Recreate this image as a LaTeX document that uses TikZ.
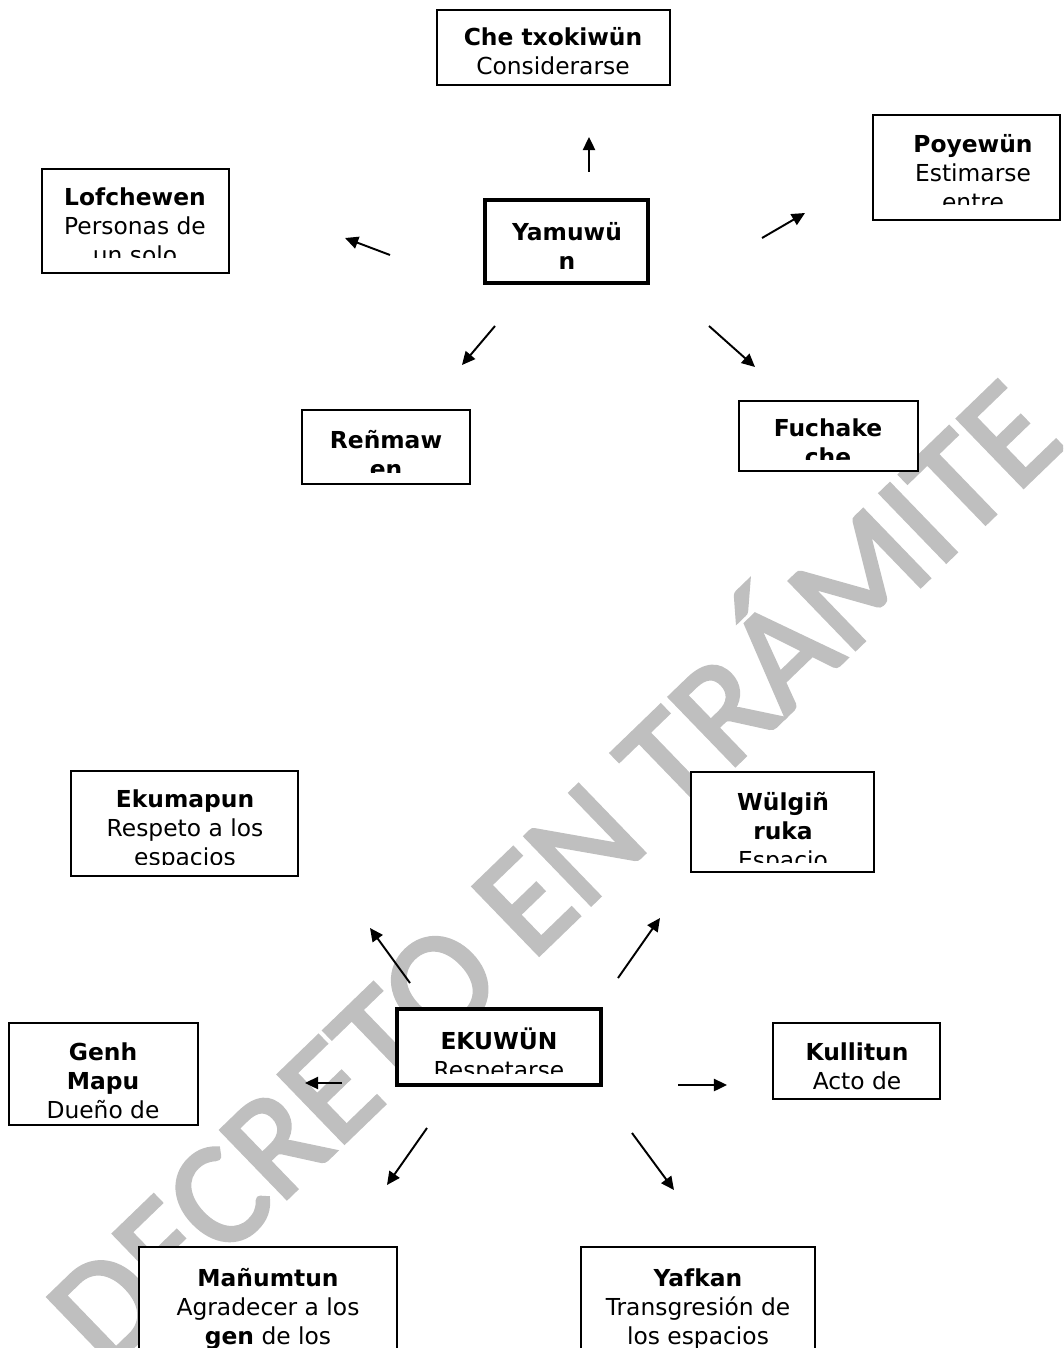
\documentclass[tikz,border=0pt]{standalone}
\usepackage{fontspec}
\setmainfont{DejaVu Sans}
\newfontfamily\markfont[FakeBold=2.5]{Carlito}
\usetikzlibrary{arrows.meta,fit}

\begin{document}
\begin{tikzpicture}[x=0.02cm, y=-0.02cm,
    thinbox/.style={draw, fill=white, line width=1.1pt, inner sep=0pt},
    thickbox/.style={draw, fill=white, line width=2.3pt, inner sep=0pt},
    boxtext/.style={anchor=north, align=center, inner sep=0pt,
        font=\fontsize{13.3}{16.5}\selectfont,
        execute at begin node=\rule{0pt}{12pt}},
    arr/.style={line width=1.1pt, -{Triangle[length=7.5pt,width=7pt]}}]

\useasboundingbox (0,0) rectangle (1063,1348);
\clip (0,0) rectangle (1063,1348);

% watermark
\node[rotate=44, text=black!25, inner sep=0pt,
    font=\markfont\fontsize{84}{90}\selectfont] (mark) at (545,864)
    {DECRETO EN TRÁMITE};

% upper group
\node[thinbox, fit={(437,10) (670,85)}] (che) {};
\begin{scope}
\clip (437,10) rectangle (670,80);
\node[boxtext] (chetext) at (553,27) {\textbf{Che txokiwün}\\Considerarse};
\end{scope}

\node[thickbox, fit={(485,200) (648,283)}] (yam) {};
\begin{scope}
\clip (485,200) rectangle (648,276);
\node[boxtext] (yamtext) at (567,222) {\textbf{Yamuwü}\\\textbf{n}};
\end{scope}

\node[thinbox, fit={(42,169) (229,273)}] (lof) {};
\begin{scope}
\clip (42,169) rectangle (229,257);
\node[boxtext] (loftext) at (135,187) {\textbf{Lofchewen}\\Personas de\\un solo};
\end{scope}

\node[thinbox, fit={(873,115) (1060,220)}] (poy) {};
\begin{scope}
\clip (873,115) rectangle (1060,205);
\node[boxtext] (poytext) at (973,134) {\textbf{Poyewün}\\Estimarse\\entre};
\end{scope}

\node[thinbox, fit={(302,410) (470,484)}] (ren) {};
\begin{scope}
\clip (302,410) rectangle (470,472);
\node[boxtext] (rentext) at (386,430) {\textbf{Reñmaw}\\\textbf{en}};
\end{scope}

\node[thinbox, fit={(739,401) (918,471)}] (fuc) {};
\begin{scope}
\clip (739,401) rectangle (918,459);
\node[boxtext] (fuctext) at (828,418) {\textbf{Fuchake}\\\textbf{che}};
\end{scope}

\coordinate (toche1) at (589,172);  \coordinate (toche2) at (589,137);
\coordinate (tolof1) at (390,255);  \coordinate (tolof2) at (345,238);
\coordinate (topoy1) at (762,238);  \coordinate (topoy2) at (805,213);
\coordinate (toren1) at (495,326);  \coordinate (toren2) at (462,365);
\coordinate (tofuc1) at (709,326);  \coordinate (tofuc2) at (755,367);
\draw[arr] (toche1) -- (toche2);
\draw[arr] (tolof1) -- (tolof2);
\draw[arr] (topoy1) -- (topoy2);
\draw[arr] (toren1) -- (toren2);
\draw[arr] (tofuc1) -- (tofuc2);

% lower group
\node[thinbox, fit={(71,771) (298,876)}] (eku) {};
\begin{scope}
\clip (71,771) rectangle (298,864);
\node[boxtext] (ekutext) at (185,789) {\textbf{Ekumapun}\\Respeto a los\\espacios};
\end{scope}

\node[thinbox, fit={(691,772) (874,872)}] (wul) {};
\begin{scope}
\clip (691,772) rectangle (874,862);
\node[boxtext] (wultext) at (783,792) {\textbf{Wülgiñ}\\\textbf{ruka}\\Espacio};
\end{scope}

\node[thickbox, fit={(397,1009) (601,1085)}] (ekuwun) {};
\begin{scope}
\clip (397,1009) rectangle (601,1073);
\node[boxtext] (ekuwuntext) at (499,1027) {\textbf{EKUWÜN}\\Respetarse};
\end{scope}

\node[thinbox, fit={(9,1023) (198,1125)}] (genh) {};
\begin{scope}
\clip (9,1023) rectangle (198,1118);
\node[boxtext] (genhtext) at (103,1042) {\textbf{Genh}\\\textbf{Mapu}\\Dueño de};
\end{scope}

\node[thinbox, fit={(773,1023) (940,1099)}] (kul) {};
\begin{scope}
\clip (773,1023) rectangle (940,1092);
\node[boxtext] (kultext) at (857,1042) {\textbf{Kullitun}\\Acto de};
\end{scope}

\node[thinbox, fit={(139,1247) (397,1400)}] (man) {};
\node[boxtext] (mantext) at (268,1268) {\textbf{Mañumtun}\\Agradecer a los\\\textbf{gen} de los};

\node[thinbox, fit={(581,1247) (815,1400)}] (yaf) {};
\node[boxtext] (yaftext) at (698,1268) {\textbf{Yafkan}\\Transgresión de\\los espacios};

\coordinate (toeku1) at (410,983);   \coordinate (toeku2) at (370,928);
\coordinate (towul1) at (618,978);   \coordinate (towul2) at (660,918);
\coordinate (togenh1) at (342,1083); \coordinate (togenh2) at (305,1083);
\coordinate (tokul1) at (678,1085);  \coordinate (tokul2) at (727,1085);
\coordinate (toman1) at (427,1128);  \coordinate (toman2) at (387,1185);
\coordinate (toyaf1) at (632,1133);  \coordinate (toyaf2) at (674,1190);
\draw[arr] (toeku1) -- (toeku2);
\draw[arr] (towul1) -- (towul2);
\draw[arr] (togenh1) -- (togenh2);
\draw[arr] (tokul1) -- (tokul2);
\draw[arr] (toman1) -- (toman2);
\draw[arr] (toyaf1) -- (toyaf2);
\end{tikzpicture}
\end{document}
